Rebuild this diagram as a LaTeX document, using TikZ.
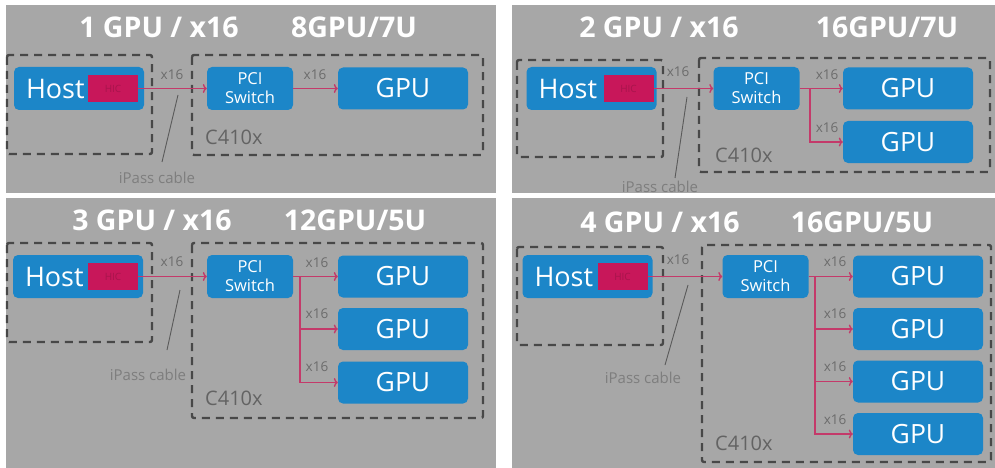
\documentclass[tikz,border=0pt]{standalone}
\usepackage{fontspec}
\setmainfont{Open Sans}
\usetikzlibrary{arrows.meta,calc}

\definecolor{panelgray}{HTML}{A7A7A7}
\definecolor{boxblue}{HTML}{1C86C8}
\definecolor{hicred}{HTML}{C8175A}
\definecolor{hictext}{HTML}{A8144C}
\definecolor{linkred}{HTML}{C43A6A}
\definecolor{frame}{HTML}{484848}
\definecolor{lbl}{HTML}{6C6C6C}
\definecolor{cable}{HTML}{7E7E7E}

\tikzset{
  panel/.style={fill=panelgray, draw=none},
  frame box/.style={draw=frame, line width=2.4pt, dash pattern=on 8pt off 6pt, rounded corners=2pt},
  title/.style={text=white, font=\fontsize{28.5}{32}\selectfont\bfseries, inner sep=0pt},
  hostbox/.style={fill=boxblue, rounded corners=5pt, text=white, minimum height=43pt,
    text width=106pt, inner xsep=12pt, align=left, font=\fontsize{27}{30}\selectfont},
  hicbox/.style={fill=hicred, minimum width=50pt, minimum height=27pt, inner sep=0pt,
    text=hictext, font=\fontsize{10}{12}\selectfont},
  switchbox/.style={fill=boxblue, rounded corners=5pt, text=white, minimum width=86pt,
    minimum height=43pt, inner sep=0pt, align=center, font=\fontsize{16.5}{19}\selectfont},
  gpubox/.style={fill=boxblue, rounded corners=5pt, text=white, minimum width=130pt,
    minimum height=42pt, inner sep=0pt, font=\fontsize{26.5}{29}\selectfont},
  link/.style={draw=linkred, line width=1.4pt, -{To[length=4pt,width=9pt]}},
  lane/.style={text=lbl, font=\fontsize{13.5}{15}\selectfont, inner sep=0pt},
  chassis/.style={text=frame!85!white, font=\fontsize{20}{23}\selectfont, inner sep=0pt, anchor=west},
  cablelbl/.style={text=cable, font=\fontsize{15}{17}\selectfont, inner sep=0pt},
  cableline/.style={draw=frame!90!white, line width=0.9pt},
}

\begin{document}
\begin{tikzpicture}[x=1pt, y=-1pt]
\useasboundingbox (0,0) rectangle (995,468);
\fill[white] (0,0) rectangle (995,468);

% ---------- four grey panels ----------
\fill[panel] (6,5) rectangle (496,193);
\fill[panel] (512,5) rectangle (995,193);
\fill[panel] (6,198) rectangle (496,468);
\fill[panel] (512,198) rectangle (995,468);

% ================= 1 GPU / x16 =================
\node[title] (t1a) at (159,27) {1 GPU / x16};
\node[title] (t1b) at (354,27) {8GPU/7U};
\draw[frame box] (7,55) rectangle (152,154);
\draw[frame box] (192,55) rectangle (483,155);
\node[hostbox] (h1) at (79,88.5) {Host};
\node[hicbox, anchor=east] (hic1) at ($(h1.east)+(-6,0)$) {HIC};
\node[switchbox] (s1) at (250,88.5) {PCI\\Switch};
\node[gpubox] (g1a) at (403,88.5) {GPU};
\draw[link] (hic1.east) -- (s1.west);
\draw[link] (s1.east) -- (g1a.west);
\node[lane] (x1h) at (172,75) {x16};
\node[lane] (x1a) at (315,75) {x16};
\node[chassis] (c1) at (205,137) {C410x};
\coordinate (p1a) at (178,95);
\coordinate (p1b) at (162,162);
\draw[cableline] (p1a) -- (p1b);
\node[cablelbl] (ip1) at (157,178) {iPass cable};

% ================= 2 GPU / x16 =================
\node[title] (t2a) at (659,27) {2 GPU / x16};
\node[title] (t2b) at (887,27) {16GPU/7U};
\draw[frame box] (517,60) rectangle (663,157);
\draw[frame box] (699,58) rectangle (990,172);
\node[hostbox] (h2) at (591.5,88.5) {Host};
\node[hicbox, anchor=east] (hic2) at ($(h2.east)+(-3,0)$) {HIC};
\node[switchbox] (s2) at (756.5,88.5) {PCI\\Switch};
\node[gpubox] (g2a) at (908,88.5) {GPU};
\node[gpubox] (g2b) at (908,142) {GPU};
\draw[link] (hic2.east) -- (s2.west);
\draw[link] (s2.east) -- (g2a.west);
\coordinate (j2) at (810,88.5);
\draw[link] (j2) |- (g2b.west);
\node[lane] (x2h) at (678,72) {x16};
\node[lane] (x2a) at (827,75) {x16};
\node[lane] (x2b) at (827,128) {x16};
\node[chassis] (c2) at (715,155) {C410x};
\coordinate (p2a) at (687,97);
\coordinate (p2b) at (675,178);
\draw[cableline] (p2a) -- (p2b);
\node[cablelbl] (ip2) at (660,187) {iPass cable};

% ================= 3 GPU / x16 =================
\node[title] (t3a) at (152,220) {3 GPU / x16};
\node[title] (t3b) at (355,220) {12GPU/5U};
\draw[frame box] (7,243) rectangle (152,342);
\draw[frame box] (192,243) rectangle (483,418);
\node[hostbox] (h3) at (78,276.5) {Host};
\node[hicbox, anchor=east] (hic3) at ($(h3.east)+(-5,0)$) {HIC};
\node[switchbox] (s3) at (250,276.5) {PCI\\Switch};
\node[gpubox] (g3a) at (403,276.5) {GPU};
\node[gpubox] (g3b) at (403,329) {GPU};
\node[gpubox] (g3c) at (403,382.5) {GPU};
\draw[link] (hic3.east) -- (s3.west);
\draw[link] (s3.east) -- (g3a.west);
\coordinate (j3) at (300,276.5);
\draw[link] (j3) |- (g3b.west);
\draw[link] (j3) |- (g3c.west);
\node[lane] (x3h) at (172,262) {x16};
\node[lane] (x3a) at (317,263) {x16};
\node[lane] (x3b) at (317,314) {x16};
\node[lane] (x3c) at (317,367) {x16};
\node[chassis] (c3) at (205,398) {C410x};
\coordinate (p3a) at (180,290);
\coordinate (p3b) at (167,350);
\draw[cableline] (p3a) -- (p3b);
\node[cablelbl] (ip3) at (148,375) {iPass cable};

% ================= 4 GPU / x16 =================
\node[title] (t4a) at (660,222) {4 GPU / x16};
\node[title] (t4b) at (862,222) {16GPU/5U};
\draw[frame box] (517,247) rectangle (663,345);
\draw[frame box] (702,245) rectangle (991,462);
\node[hostbox] (h4) at (587.5,276.5) {Host};
\node[hicbox, anchor=east] (hic4) at ($(h4.east)+(-5,0)$) {HIC};
\node[switchbox] (s4) at (765.5,276.5) {PCI\\Switch};
\node[gpubox] (g4a) at (918,276.5) {GPU};
\node[gpubox] (g4b) at (918,329) {GPU};
\node[gpubox] (g4c) at (918,381.5) {GPU};
\node[gpubox] (g4d) at (918,434) {GPU};
\draw[link] (hic4.east) -- (s4.west);
\draw[link] (s4.east) -- (g4a.west);
\coordinate (j4) at (815,276.5);
\draw[link] (j4) |- (g4b.west);
\draw[link] (j4) |- (g4c.west);
\draw[link] (j4) |- (g4d.west);
\node[lane] (x4h) at (678,260) {x16};
\node[lane] (x4a) at (835,262) {x16};
\node[lane] (x4b) at (835,314) {x16};
\node[lane] (x4c) at (835,367) {x16};
\node[lane] (x4d) at (835,420) {x16};
\node[chassis] (c4) at (715,443) {C410x};
\coordinate (p4a) at (688,285);
\coordinate (p4b) at (665,365);
\draw[cableline] (p4a) -- (p4b);
\node[cablelbl] (ip4) at (643,378) {iPass cable};
\end{tikzpicture}
\end{document}
